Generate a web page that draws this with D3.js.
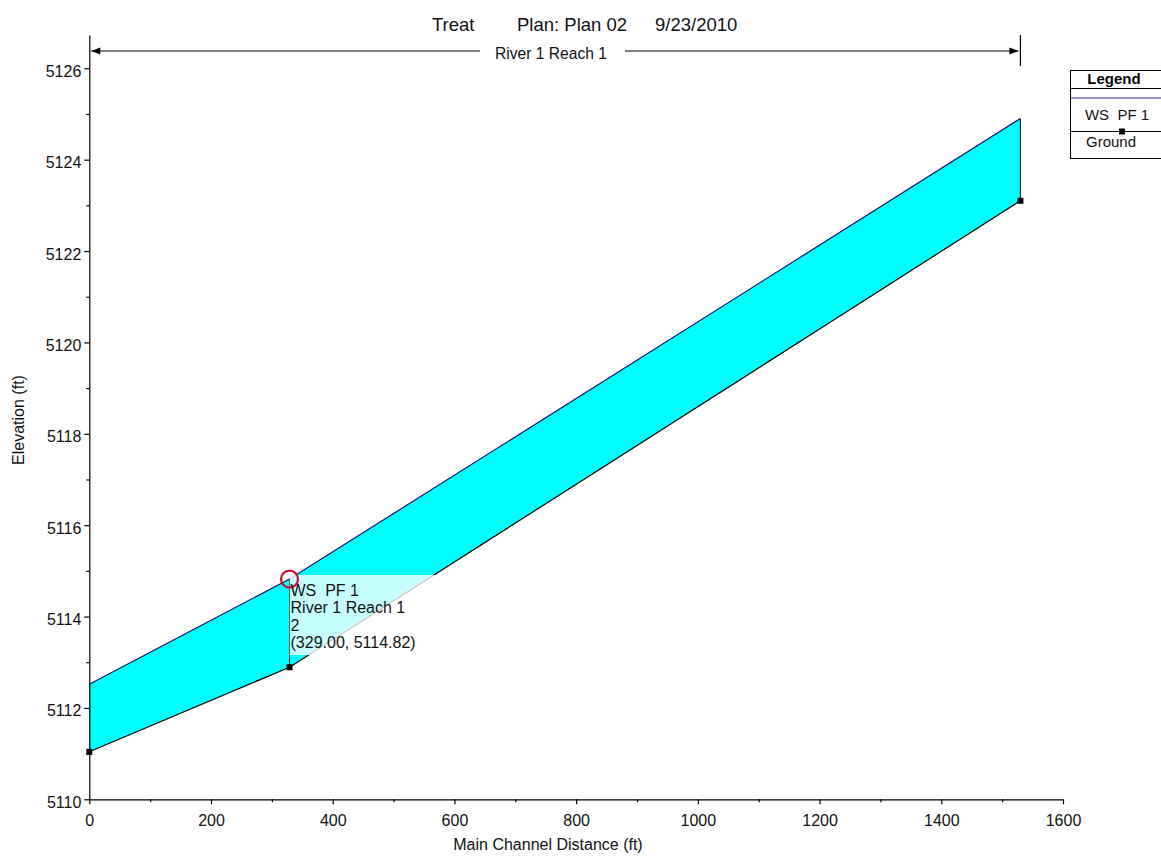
<!DOCTYPE html>
<html>
<head>
<meta charset="utf-8">
<script src="https://cdn.jsdelivr.net/npm/d3@7"></script>
<style>
  html, body { margin: 0; padding: 0; background: #fff; }
  svg { display: block; font-family: "Liberation Sans", Arial, sans-serif; }
  text { white-space: pre; }
</style>
</head>
<body>
<svg id="chart" width="1161" height="859"></svg>
<script>
// ---- data ----
const stations = [0, 329, 1530];
const wsPF1 = [5112.52, 5114.82, 5124.90];
const ground = [5111.04, 5112.89, 5123.10];
const xTicks = [0, 200, 400, 600, 800, 1000, 1200, 1400, 1600];
const xMinorTicks = [100, 300, 500, 700, 900, 1100, 1300, 1500];
const yTicks = [5110, 5112, 5114, 5116, 5118, 5120, 5122, 5124, 5126];
const yMinorTicks = [5111, 5113, 5115, 5117, 5119, 5121, 5123, 5125];
const titleParts = ["Treat", "Plan: Plan 02", "9/23/2010"];
const reachLabel = "River 1 Reach 1";
const legendItems = ["WS  PF 1", "Ground"];
const tipLines = ["WS  PF 1", "River 1 Reach 1", "2", "(329.00, 5114.82)"];
const tipIndex = 1;

// ---- layout ----
const svg = d3.select("#chart");
const x = d3.scaleLinear().domain([0, 1600]).range([89.3, 1063]);
const yPerUnit = (799.3 - 68.3) / 16;
const yTop = 5110 + (799.3 - 35) / yPerUnit;
const y = d3.scaleLinear().domain([5110, yTop]).range([799.3, 35]);

const pts = stations.map((s, i) => ({ s, ws: wsPF1[i], g: ground[i] }));

// fill between ground and water surface
const area = d3.area().x(d => x(d.s)).y0(d => y(d.g)).y1(d => y(d.ws));
svg.append("path").datum(pts).attr("d", area).attr("fill", "#00ffff");

// vertical section lines
svg.selectAll("line.sec").data(pts.slice(1)).join("line")
  .attr("x1", d => x(d.s)).attr("x2", d => x(d.s))
  .attr("y1", d => y(d.ws)).attr("y2", d => y(d.g))
  .attr("stroke", "#000").attr("stroke-width", 1);

// water surface line
const wsLine = d3.line().x(d => x(d.s)).y(d => y(d.ws));
svg.append("path").datum(pts).attr("d", wsLine)
  .attr("fill", "none").attr("stroke", "#14146e").attr("stroke-width", 1.2);

// ground line
const gLine = d3.line().x(d => x(d.s)).y(d => y(d.g));
svg.append("path").datum(pts).attr("d", gLine)
  .attr("fill", "none").attr("stroke", "#000").attr("stroke-width", 1.2);
svg.selectAll("rect.mk").data(pts).join("rect")
  .attr("x", d => x(d.s) - 3).attr("y", d => y(d.g) - 3)
  .attr("width", 6).attr("height", 6).attr("fill", "#000");

// ---- axes ----
const fontTick = "16px";
const xAxisG = svg.append("g").attr("transform", `translate(0,${y(5110)})`)
  .call(d3.axisBottom(x).tickValues(xTicks).tickSize(5).tickSizeOuter(0).tickPadding(10).tickFormat(d3.format("d")));
svg.append("g").attr("transform", `translate(0,${y(5110)})`)
  .call(d3.axisBottom(x).tickValues(xMinorTicks).tickSize(3).tickFormat("").tickSizeOuter(0))
  .select(".domain").remove();
const yAxisG = svg.append("g").attr("transform", `translate(${x(0)},0)`)
  .call(d3.axisLeft(y).tickValues(yTicks).tickSize(5).tickSizeOuter(0).tickPadding(3).tickFormat(d3.format("d")));
svg.append("g").attr("transform", `translate(${x(0)},0)`)
  .call(d3.axisLeft(y).tickValues(yMinorTicks).tickSize(3).tickFormat("").tickSizeOuter(0))
  .select(".domain").remove();
svg.selectAll(".tick line, .domain").attr("stroke", "#000").attr("stroke-width", 1.2);
xAxisG.selectAll("text").attr("font-size", fontTick).attr("fill", "#111")
  .attr("font-family", "Liberation Sans, Arial, sans-serif");
yAxisG.selectAll("text").attr("font-size", fontTick).attr("fill", "#111")
  .attr("font-family", "Liberation Sans, Arial, sans-serif").attr("dy", "8").attr("x", -8);

// axis titles
svg.append("text").attr("x", 548).attr("y", 850).attr("text-anchor", "middle")
  .attr("font-size", "16px").attr("fill", "#111").text("Main Channel Distance (ft)");
svg.append("text").attr("transform", "translate(24,420) rotate(-90)").attr("text-anchor", "middle")
  .attr("font-size", "16px").attr("fill", "#111").text("Elevation (ft)");

// ---- title ----
const titleX = [432, 517, 655];
svg.selectAll("text.title").data(titleParts).join("text")
  .attr("x", (d, i) => titleX[i]).attr("y", 31)
  .attr("font-size", "18.5px").attr("fill", "#111").text(d => d);

// reach extent arrow
const ry = 51;
const xL = x(0) + 2, xR = x(stations[stations.length - 1]) - 2;
svg.append("line").attr("x1", xL).attr("x2", 480).attr("y1", ry).attr("y2", ry).attr("stroke", "#000").attr("stroke-width", 1.2);
svg.append("line").attr("x1", 625).attr("x2", xR).attr("y1", ry).attr("y2", ry).attr("stroke", "#000").attr("stroke-width", 1.2);
svg.append("path").attr("d", `M${xL},${ry} l9,-3.5 l0,7 Z`).attr("fill", "#000");
svg.append("path").attr("d", `M${xR},${ry} l-9,-3.5 l0,7 Z`).attr("fill", "#000");
svg.append("line").attr("x1", x(stations[stations.length - 1])).attr("x2", x(stations[stations.length - 1]))
  .attr("y1", 35).attr("y2", 66).attr("stroke", "#000").attr("stroke-width", 1.2);
svg.append("text").attr("x", 551).attr("y", 59).attr("text-anchor", "middle")
  .attr("font-size", "15.6px").attr("fill", "#111").text(reachLabel);

// ---- tooltip ----
const tp = pts[tipIndex];
const tx = x(tp.s), ty = y(tp.ws);
svg.append("rect").attr("x", tx).attr("y", 575).attr("width", 156).attr("height", 80)
  .attr("fill", "#fff").attr("fill-opacity", 0.78);
svg.append("circle").attr("cx", tx).attr("cy", ty).attr("r", 8.5)
  .attr("fill", "none").attr("stroke", "#c8102e").attr("stroke-width", 2.2);
svg.selectAll("text.tip").data(tipLines).join("text")
  .attr("x", tx + 1).attr("y", (d, i) => 596 + i * 17.3)
  .attr("font-size", "16px").attr("fill", "#111").text(d => d);

// ---- legend ----
const lg = svg.append("g");
lg.append("rect").attr("x", 1070.5).attr("y", 70.5).attr("width", 120).attr("height", 88)
  .attr("fill", "#fff").attr("stroke", "#000");
lg.append("line").attr("x1", 1070).attr("x2", 1161).attr("y1", 88.5).attr("y2", 88.5).attr("stroke", "#000");
lg.append("text").attr("x", 1114).attr("y", 84).attr("text-anchor", "middle")
  .attr("font-size", "15px").attr("font-weight", "bold").attr("fill", "#000").text("Legend");
lg.append("line").attr("x1", 1071).attr("x2", 1161).attr("y1", 98).attr("y2", 98)
  .attr("stroke", "#2a2a9a").attr("stroke-width", 1.2);
lg.append("text").attr("x", 1117).attr("y", 120).attr("text-anchor", "middle")
  .attr("font-size", "15px").attr("fill", "#111").text(legendItems[0]);
lg.append("line").attr("x1", 1071).attr("x2", 1161).attr("y1", 131.5).attr("y2", 131.5)
  .attr("stroke", "#000").attr("stroke-width", 1.2);
lg.append("rect").attr("x", 1119).attr("y", 128.5).attr("width", 6).attr("height", 6).attr("fill", "#000");
lg.append("text").attr("x", 1111).attr("y", 147).attr("text-anchor", "middle")
  .attr("font-size", "15px").attr("fill", "#111").text(legendItems[1]);
</script>
</body>
</html>
